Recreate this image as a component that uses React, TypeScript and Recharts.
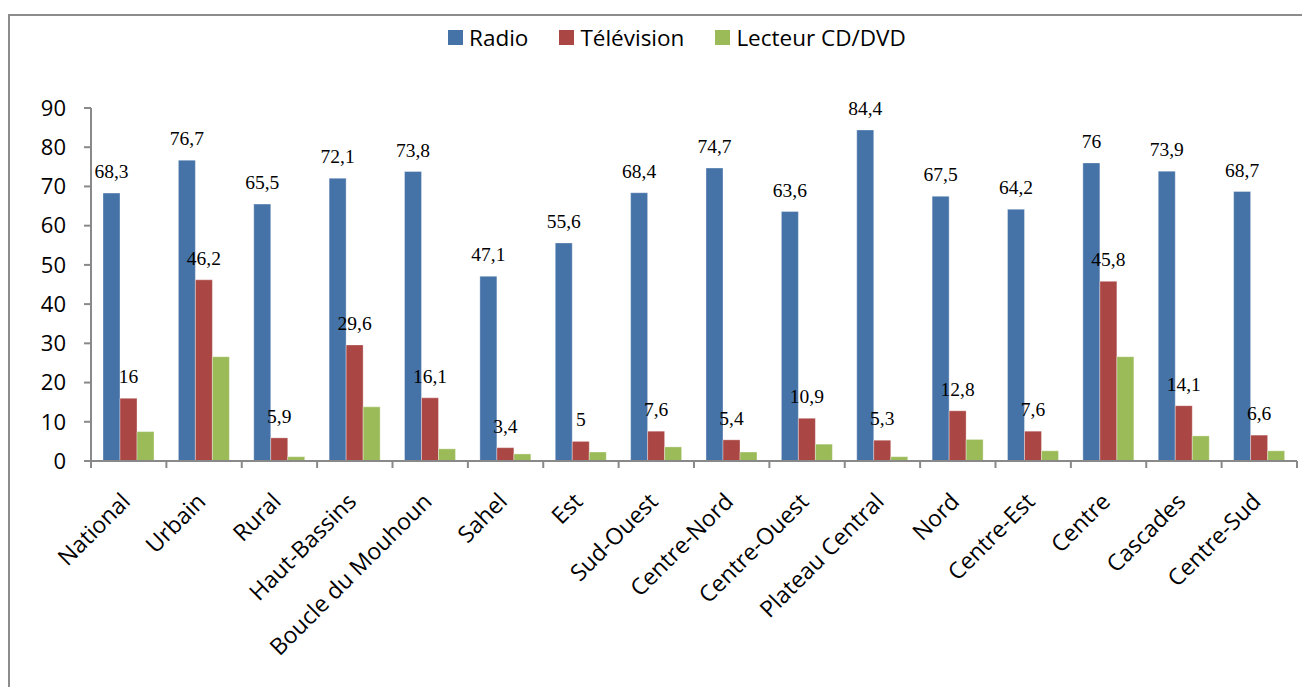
import React from 'react';
import { BarChart, Bar, XAxis, YAxis, LabelList } from 'recharts';

const categories = [
  'National', 'Urbain', 'Rural', 'Haut-Bassins', 'Boucle du Mouhoun', 'Sahel', 'Est', 'Sud-Ouest',
  'Centre-Nord', 'Centre-Ouest', 'Plateau Central', 'Nord', 'Centre-Est', 'Centre', 'Cascades', 'Centre-Sud',
];
const radio = [68.3, 76.7, 65.5, 72.1, 73.8, 47.1, 55.6, 68.4, 74.7, 63.6, 84.4, 67.5, 64.2, 76, 73.9, 68.7];
const television = [16, 46.2, 5.9, 29.6, 16.1, 3.4, 5, 7.6, 5.4, 10.9, 5.3, 12.8, 7.6, 45.8, 14.1, 6.6];
const lecteur = [7.5, 26.6, 1.1, 13.8, 3.1, 1.8, 2.3, 3.6, 2.3, 4.3, 1.1, 5.5, 2.6, 26.6, 6.4, 2.6];
const yTicks = [0, 10, 20, 30, 40, 50, 60, 70, 80, 90];

const series = [
  { key: 'radio', name: 'Radio', color: '#4572A7', labels: true },
  { key: 'television', name: 'Télévision', color: '#AA4643', labels: true },
  { key: 'lecteur', name: 'Lecteur CD/DVD', color: '#9BBB59', labels: false },
];

const data = categories.map((c, i) => ({
  name: c,
  radio: radio[i],
  television: television[i],
  lecteur: lecteur[i],
}));

const sans = '"Open Sans", sans-serif';
const axisGray = '#898989';

const CategoryTick = (props: any) => {
  const { x, y, payload, index, visibleTicksCount } = props;
  const half = payload && payload.offset ? payload.offset : 37.7;
  const last = index === visibleTicksCount - 1;
  return (
    <g>
      <line x1={x - half} x2={x - half} y1={y} y2={y + 7} stroke={axisGray} strokeWidth={2} />
      {last && <line x1={x + half} x2={x + half} y1={y} y2={y + 7} stroke={axisGray} strokeWidth={2} />}
      <text
        transform={`translate(${x + 3},${y + 42}) rotate(-45)`}
        textAnchor="end"
        fontFamily={sans}
        fontSize={23}
        fill="#000"
      >
        {payload.value}
      </text>
    </g>
  );
};

const renderValue = (props: any) => {
  const { x, y, width, value } = props;
  return (
    <text
      x={x + width / 2}
      y={y - 15}
      textAnchor="middle"
      fontFamily='"Liberation Serif", serif'
      fontSize={19.5}
      fill="#000"
    >
      {String(value).replace('.', ',')}
    </text>
  );
};

export default function App() {
  return (
    <div style={{ position: 'relative', width: 1302, height: 679, overflow: 'hidden', background: '#fff' }}>
      <div
        style={{
          position: 'absolute',
          left: 0,
          top: 6,
          width: 1400,
          height: 800,
          border: '2px solid #8c8c8c',
        }}
      />
      <div
        style={{
          position: 'absolute',
          left: 440,
          top: 14,
          display: 'flex',
          alignItems: 'center',
          fontFamily: sans,
          fontSize: 22.5,
          color: '#000',
        }}
      >
        {series.map((s, i) => (
          <div key={s.key} style={{ display: 'flex', alignItems: 'center', marginLeft: i === 0 ? 0 : 31 }}>
            <span style={{ width: 15, height: 15, background: s.color, display: 'inline-block', marginRight: 6 }} />
            <span>{s.name}</span>
          </div>
        ))}
      </div>
      <div style={{ position: 'absolute', left: 0, top: 0 }}>
        <BarChart
          width={1302}
          height={679}
          data={data}
          margin={{ top: 100, right: 13, left: 23, bottom: 0 }}
          barGap={0}
        >
          <XAxis
            dataKey="name"
            interval={0}
            height={226}
            axisLine={{ stroke: axisGray, strokeWidth: 2 }}
            tickLine={false}
            tickSize={0}
            tickMargin={0}
            tick={<CategoryTick />}
          />
          <YAxis
            domain={[0, 90]}
            ticks={yTicks}
            width={60}
            axisLine={{ stroke: axisGray, strokeWidth: 2 }}
            tickLine={{ stroke: axisGray, strokeWidth: 2 }}
            tickSize={7}
            tickMargin={18}
            tick={{ fontFamily: sans, fontSize: 22, fill: '#000' }}
          />
          {series.map((s) => (
            <Bar
              key={s.key}
              dataKey={s.key}
              name={s.name}
              fill={s.color}
              stroke="#ffffff"
              strokeOpacity={0.35}
              strokeWidth={1}
              barSize={17}
              isAnimationActive={false}
            >
              {s.labels && <LabelList dataKey={s.key} content={renderValue} />}
            </Bar>
          ))}
        </BarChart>
      </div>
    </div>
  );
}
